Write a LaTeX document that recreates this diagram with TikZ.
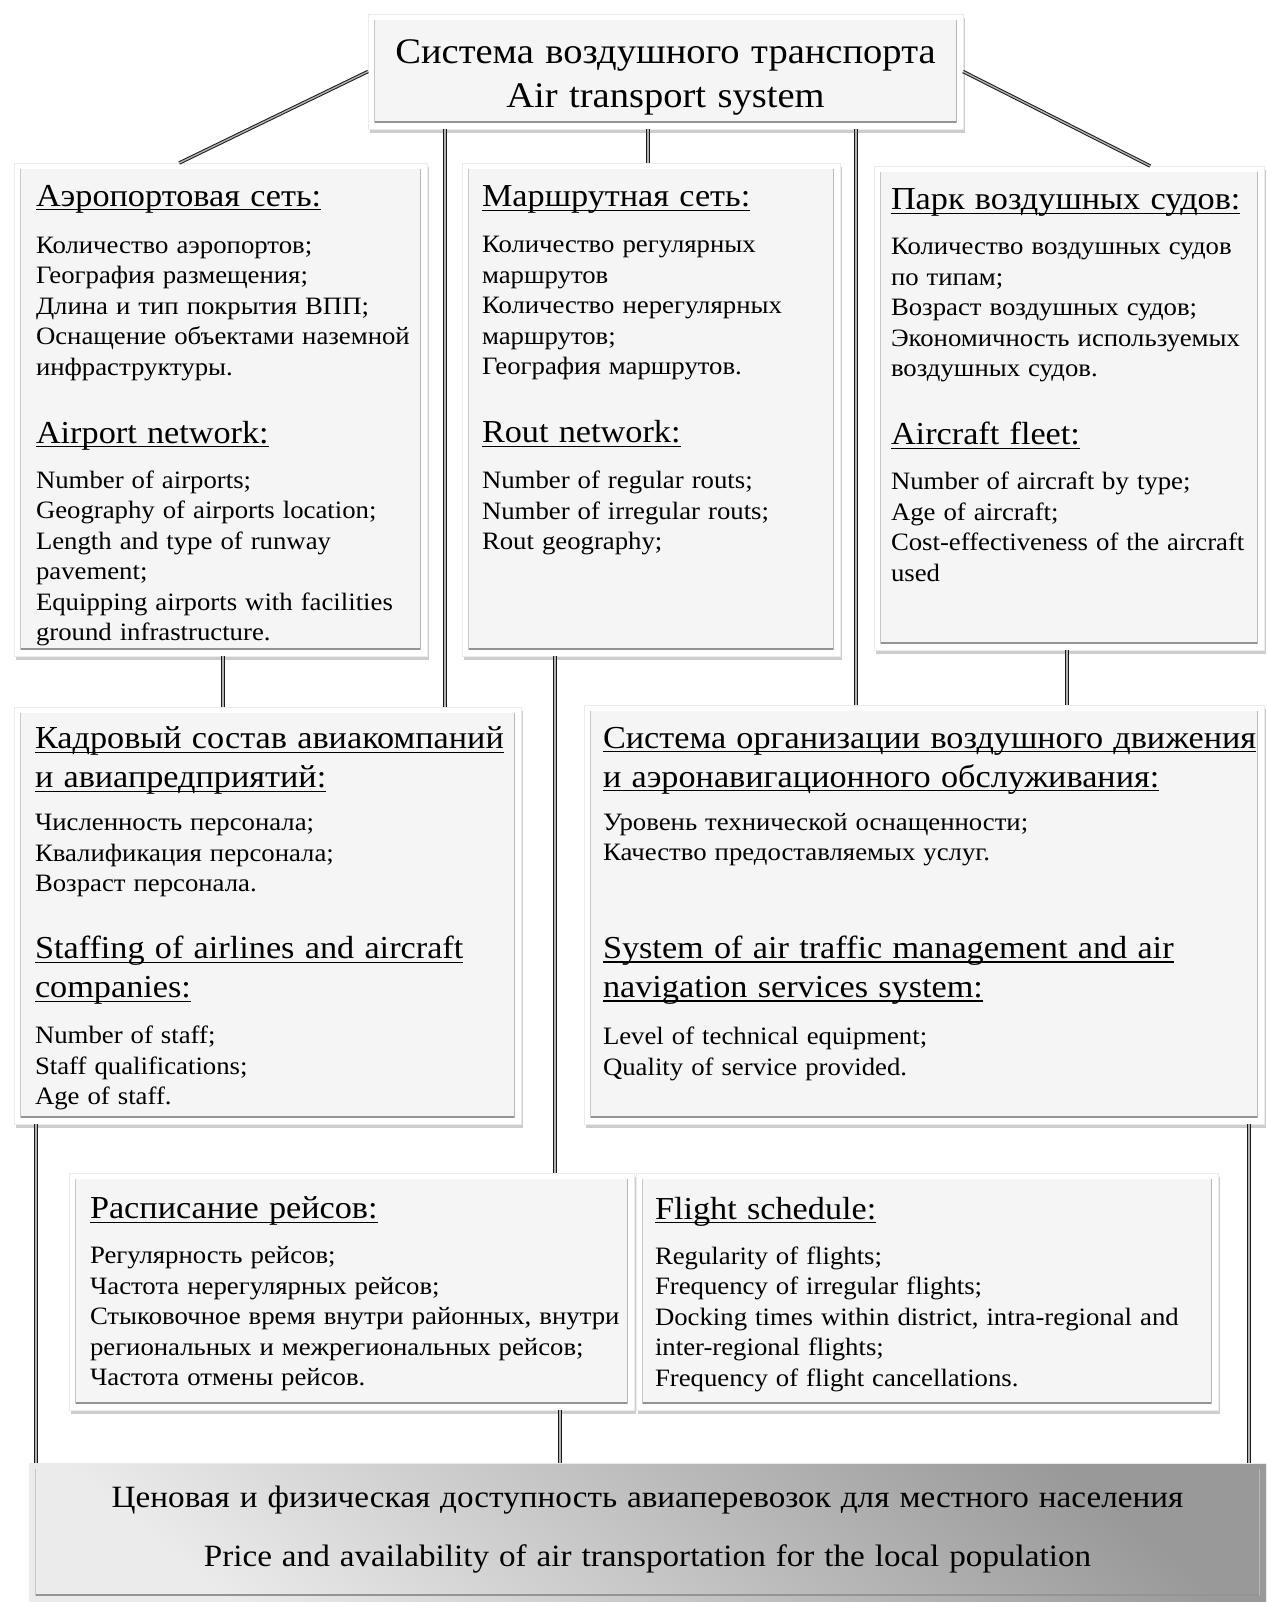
\documentclass[tikz,border=0pt]{standalone}
\usepackage{fontspec}
\setmainfont{Liberation Serif}[FakeStretch=1.07, WordSpace=1.2]
\usetikzlibrary{shadows,calc}
\newcommand\HDf{\fontsize{32}{39}\selectfont\spaceskip=0pt\xspaceskip=0pt\relax}
\newcommand\BDf{\fontsize{25}{30.5}\selectfont\spaceskip=0pt\xspaceskip=0pt\relax}
\newcommand\ULN[1]{\leavevmode\setbox0\hbox{#1}\rlap{\rule[-4pt]{\wd0}{1.4pt}}\box0}
\begin{document}
\begin{tikzpicture}[x=1pt,y=-1pt,
  bevellines/.style={path picture={
    \draw[black!42, line width=2.5pt] ([shift={(6pt,7pt)}]path picture bounding box.south west) -- ([shift={(-6pt,7pt)}]path picture bounding box.south east);
    \draw[black!28, line width=1.6pt] ([shift={(-6.5pt,6pt)}]path picture bounding box.south east) -- ([shift={(-6.5pt,-6pt)}]path picture bounding box.north east);
    \draw[black!22, line width=1pt] ([shift={(6pt,6pt)}]path picture bounding box.south west) -- ([shift={(6pt,-6pt)}]path picture bounding box.north west);
  }},
  bevelfill/.style={path picture={
    \fill[black!4] ([shift={(6pt,6pt)}]path picture bounding box.south west) rectangle ([shift={(-6pt,-6pt)}]path picture bounding box.north east);
    \draw[black!42, line width=2.5pt] ([shift={(6pt,7pt)}]path picture bounding box.south west) -- ([shift={(-6pt,7pt)}]path picture bounding box.south east);
    \draw[black!28, line width=1.6pt] ([shift={(-6.5pt,6pt)}]path picture bounding box.south east) -- ([shift={(-6.5pt,-6pt)}]path picture bounding box.north east);
    \draw[black!22, line width=1pt] ([shift={(6pt,6pt)}]path picture bounding box.south west) -- ([shift={(6pt,-6pt)}]path picture bounding box.north west);
  }},
  panel/.style={draw=black!8, line width=0.6pt, fill=white, inner sep=0pt, outer sep=0pt, anchor=north west,
    drop shadow={shadow xshift=2pt, shadow yshift=-4pt, opacity=0.28, fill=black!70}, bevelfill},
  botpanel/.style={draw=black!8, line width=0.6pt, inner sep=0pt, outer sep=0pt, anchor=north west,
    top color=black!40, bottom color=black!8, shading angle=-40,
    drop shadow={shadow xshift=2pt, shadow yshift=-4pt, opacity=0.28, fill=black!70}, bevellines},
  txt/.style={anchor=north west, inner sep=0pt, outer sep=0pt, align=left,
    execute at begin node={\setlength{\parindent}{0pt}}},
  conn/.style={draw=black!90, line width=1pt, double=black!30, double distance=1.4pt}
]
\fill[white] (0,0) rectangle (1266,1602);
\useasboundingbox (0,0) rectangle (1266,1602);

% boxes
\node[panel, minimum width=595pt, minimum height=115pt] (T) at (368,14) {};
\node[inner sep=0pt, align=center, font=\fontsize{36}{44}\selectfont] (Tt) at ($(T.center)+(0,6)$)
  {Система воздушного транспорта\\Air transport system};
\node[panel, minimum width=413pt, minimum height=493pt] (A) at (14,163) {};
\node[panel, minimum width=378pt, minimum height=493pt] (B) at (462,163) {};
\node[panel, minimum width=390pt, minimum height=484pt] (C) at (874,166) {};
\node[panel, minimum width=507pt, minimum height=417pt] (D) at (14,707) {};
\node[panel, minimum width=680pt, minimum height=419pt] (E) at (584,705) {};
\node[panel, minimum width=565pt, minimum height=237pt] (F) at (69,1173) {};
\node[panel, minimum width=582pt, minimum height=237pt] (G) at (636,1173) {};
\node[botpanel, minimum width=1237pt, minimum height=139pt] (P) at (29,1463) {};
\node[inner sep=0pt, align=center, font=\fontsize{31}{59}\selectfont] (Pt) at ($(P.center)+(0,-3)$)
  {Ценовая и физическая доступность авиаперевозок для местного населения\\Price and availability of air transportation for the local population};

% texts
\node[txt, text width=385pt] (At) at (36,185) {%
{\HDf\ULN{Аэропортовая сеть:}\par}\vspace{16.5pt}
{\BDf Количество аэропортов;\\География размещения;\\Длина и тип покрытия ВПП;\\Оснащение объектами наземной\\инфраструктуры.\par}\vspace{29pt}
{\HDf\ULN{Airport network:}\par}\vspace{14.5pt}
{\BDf Number of airports;\\Geography of airports location;\\Length and type of runway\\pavement;\\Equipping airports with facilities\\ground infrastructure.\par}};

\node[txt, text width=350pt] (Bt) at (482,186) {%
{\HDf\ULN{Маршрутная сеть:}\par}\vspace{15.5pt}
{\BDf Количество регулярных\\маршрутов\\Количество нерегулярных\\маршрутов;\\География маршрутов.\par}\vspace{29pt}
{\HDf\ULN{Rout network:}\par}\vspace{15.5pt}
{\BDf Number of regular routs;\\Number of irregular routs;\\Rout geography;\par}};

\node[txt, text width=370pt] (Ct) at (891,189) {%
{\HDf\ULN{Парк воздушных судов:}\par}\vspace{14.5pt}
{\BDf Количество воздушных судов\\по типам;\\Возраст воздушных судов;\\Экономичность используемых\\воздушных судов.\par}\vspace{29pt}
{\HDf\ULN{Aircraft fleet:}\par}\vspace{14.5pt}
{\BDf Number of aircraft by type;\\Age of aircraft;\\Cost-effectiveness of the aircraft\\used\par}};

\node[txt, text width=480pt] (Dt) at (35,727) {%
{\HDf\ULN{Кадровый состав авиакомпаний}\\\ULN{и авиапредприятий:}\par}\vspace{12.5pt}
{\BDf Численность персонала;\\Квалификация персонала;\\Возраст персонала.\par}\vspace{28pt}
{\HDf\ULN{Staffing of airlines and aircraft}\\\ULN{companies:}\par}\vspace{15.5pt}
{\BDf Number of staff;\\Staff qualifications;\\Age of staff.\par}};

\node[txt, text width=655pt] (Et) at (603,727) {%
{\HDf\ULN{Система организации воздушного движения}\\\ULN{и аэронавигационного обслуживания:}\par}\vspace{12.5pt}
{\BDf Уровень технической оснащенности;\\Качество предоставляемых услуг.\par}\vspace{59pt}
{\HDf\ULN{System of air traffic management and air}\\\ULN{navigation services system:}\par}\vspace{16.5pt}
{\BDf Level of technical equipment;\\Quality of service provided.\par}};

\node[txt, text width=540pt] (Ft) at (90,1197) {%
{\HDf\ULN{Расписание рейсов:}\par}\vspace{14.5pt}
{\BDf Регулярность рейсов;\\Частота нерегулярных рейсов;\\Стыковочное время внутри районных, внутри\\региональных и межрегиональных рейсов;\\Частота отмены рейсов.\par}};

\node[txt, text width=560pt] (Gt) at (655,1197) {%
{\HDf\ULN{Flight schedule:}\par}\vspace{14.5pt}
{\BDf Regularity of flights;\\Frequency of irregular flights;\\Docking times within district, intra-regional and\\inter-regional flights;\\Frequency of flight cancellations.\par}};

% connector x positions
\coordinate (x36) at (36,0);
\coordinate (x223) at (223,0);
\coordinate (x445) at (445,0);
\coordinate (x555) at (555,0);
\coordinate (x560) at (560,0);
\coordinate (x648) at (648,0);
\coordinate (x856) at (856,0);
\coordinate (x1067) at (1067,0);
\coordinate (x1249) at (1249,0);

% connectors
\draw[conn] (T.west) -- ($(A.north west)!0.40!(A.north east)$);
\draw[conn] (T.east) -- ($(C.north west)!0.708!(C.north east)$);
\draw[conn] (T.south -| x648) -- (B.north -| x648);
\draw[conn] (T.south -| x445) -- (D.north -| x445);
\draw[conn] (T.south -| x856) -- (E.north -| x856);
\draw[conn] (A.south -| x223) -- (D.north -| x223);
\draw[conn] (C.south -| x1067) -- (E.north -| x1067);
\draw[conn] (B.south -| x555) -- (F.north -| x555);
\draw[conn] (D.south -| x36) -- (P.north -| x36);
\draw[conn] (E.south -| x1249) -- (P.north -| x1249);
\draw[conn] (F.south -| x560) -- (P.north -| x560);
\end{tikzpicture}
\end{document}
